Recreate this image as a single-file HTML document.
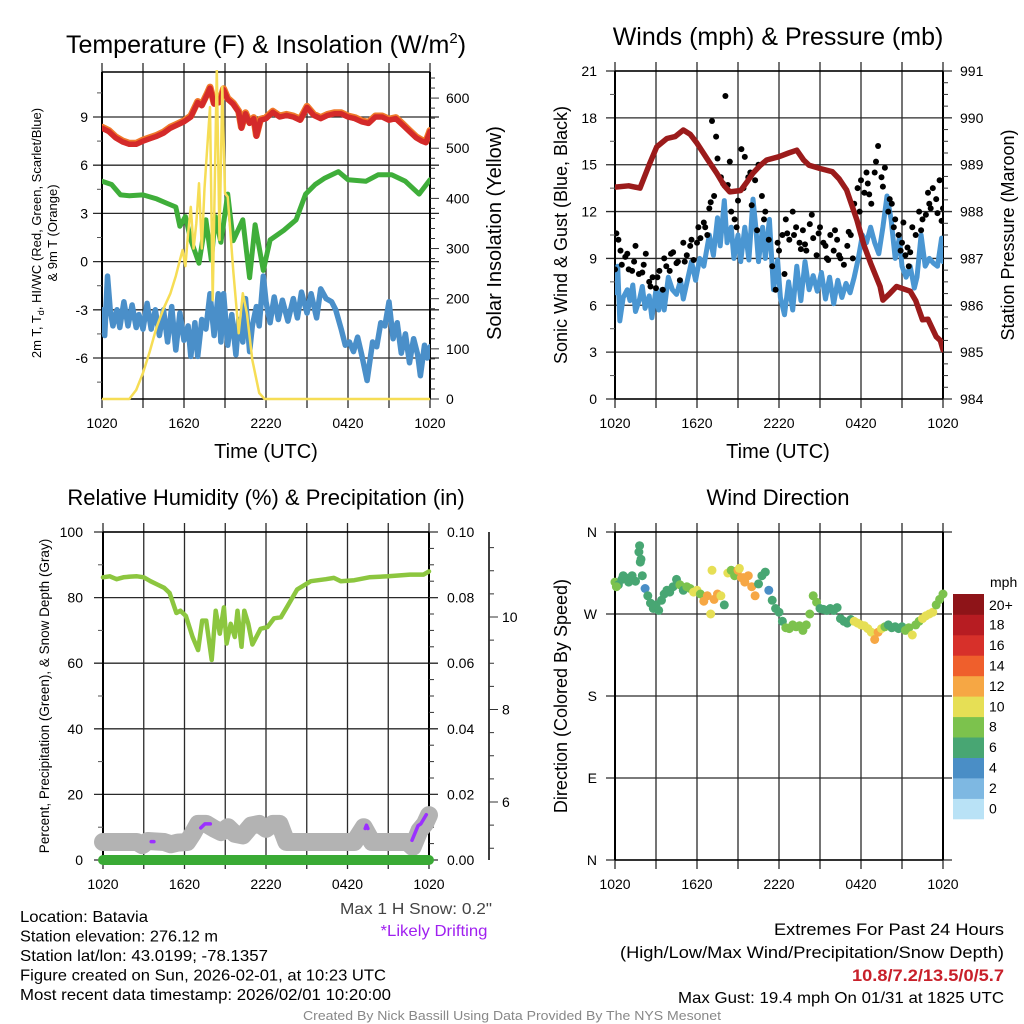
<!DOCTYPE html>
<html><head><meta charset="utf-8"><title>Mesonet Station Plot</title>
<style>
html,body{margin:0;padding:0;background:#fff;}
svg{display:block;font-family:"Liberation Sans",Arial,sans-serif;}
</style></head>
<body>
<svg id="chart" width="1024" height="1024" viewBox="0 0 1024 1024" xmlns="http://www.w3.org/2000/svg"></svg>
<script>
// ===== Panel 1 data: temperature (F) & insolation =====
const tempTimes=[0,0.5,1,1.5,2,2.5,3,3.5,4,4.5,5,5.5,6,6.5,7,7.3,7.7,7.9,8.2,8.6,8.9,9.2,9.6,10,10.2,10.5,10.8,11.1,11.3,11.6,12,12.5,13,13.5,14,14.5,15,15.5,16,16.5,17,17.5,18,18.5,19,19.5,20,20.5,21,21.5,22,22.5,23,23.4,23.7,24];
const tempVals=[8.3,8.1,7.7,7.45,7.3,7.3,7.5,7.65,7.8,8.0,8.3,8.5,8.7,9.0,9.9,9.7,10.4,10.8,9.8,9.9,10.7,10.1,9.8,9.3,8.3,9.2,8.6,8.9,7.8,8.8,8.9,9.3,9.0,9.1,9.0,8.8,9.6,9.1,8.9,9.1,9.2,9.2,9.0,8.9,8.7,8.6,9.0,9.0,8.8,8.9,8.5,8.1,7.7,7.5,7.4,8.1];
const dewTimes=[0,0.7,1.35,2,3,4,4.7,5.4,5.7,6.1,6.5,7.1,7.6,8.0,8.3,8.7,9.2,9.6,10.3,10.8,11.2,11.8,12.3,13.3,14.2,14.9,15.6,16.3,17.3,18,19.3,20.2,21.2,22.2,23.2,24];
const dewVals=[5.0,4.8,4.15,4.1,4.15,3.9,3.65,3.4,2.2,2.8,1.35,-0.1,2.6,0.1,2.8,1.2,4.2,1.3,2.6,-1.0,2.3,-0.55,1.35,1.95,2.6,4.2,4.8,5.2,5.6,5.1,5.0,5.4,5.4,5.0,4.2,5.1];
const hiTimes=[0,0.2,0.4,0.6,0.8,1.1,1.3,1.6,1.9,2.2,2.5,2.7,3.0,3.3,3.6,3.9,4.2,4.5,4.8,5.1,5.4,5.7,6.0,6.3,6.5,6.8,7.0,7.3,7.6,7.9,8.2,8.5,8.7,8.9,9.2,9.5,9.8,10.0,10.3,10.5,10.8,11.0,11.3,11.5,11.8,12.0,12.3,12.6,12.9,13.2,13.6,14.0,14.3,14.6,15.0,15.3,15.7,16.0,16.4,16.8,17.1,17.5,17.8,18.1,18.4,18.7,19.0,19.4,19.8,20.1,20.4,20.7,21.0,21.3,21.6,21.9,22.2,22.5,22.8,23.1,23.3,23.6,23.8,24];
const hiVals=[-3.0,-4.6,-0.9,-3.0,-4.0,-3.0,-4.1,-2.5,-4.0,-2.7,-4.1,-3.3,-4.2,-2.6,-4.2,-3.0,-4.6,-3.0,-5.0,-2.8,-5.5,-3.2,-4.9,-4.0,-5.9,-3.8,-5.9,-3.6,-4.2,-2.0,-4.6,-2.0,-5.0,-2.0,-5.2,-3.3,-5.8,-3.6,-5.0,-2.3,-5.6,-4.0,-2.8,-4.0,-0.9,-2.5,-3.8,-2.2,-3.6,-2.4,-3.7,-2.3,-3.5,-1.9,-3.2,-2.0,-3.5,-1.7,-2.3,-2.5,-3.0,-4.2,-5.2,-5.0,-5.6,-4.7,-5.8,-7.4,-5.0,-5.3,-3.8,-4.0,-2.5,-4.8,-3.8,-5.7,-4.5,-6.3,-4.8,-5.8,-7.1,-5.2,-6.0,-5.3];
const solTimes=[0,2.0,2.5,3.0,3.5,4.0,4.5,5.0,5.4,5.7,5.9,6.1,6.3,6.5,6.7,6.9,7.1,7.3,7.5,7.7,7.9,8.1,8.4,8.6,8.8,9.0,9.2,9.4,9.6,10.0,10.3,10.6,11.0,11.5,11.9,24];
const solVals=[0,0,18,52,95,144,180,210,245,277,297,265,330,383,300,350,430,300,420,500,582,197,656,317,622,410,403,330,257,131,211,171,78,12,0,0];
// ===== Panel 2 data: winds & pressure =====
const presTimes=[0,1.0,1.83,2.5,3.05,3.8,4.4,5.0,5.5,6.0,6.8,7.44,8.0,8.4,9.2,9.7,10.1,10.6,11.1,12.0,12.7,13.3,13.8,14.2,15.0,15.9,16.4,16.95,17.7,18.2,18.7,19.4,19.6,20.1,20.6,21.6,22.0,22.5,22.9,23.5,23.8,24];
const presVals=[988.52,988.55,988.5,989.0,989.38,989.56,989.6,989.74,989.65,989.46,989.1,988.82,988.55,988.42,988.45,988.65,988.82,988.98,989.1,989.17,989.25,989.31,989.1,988.99,988.92,988.85,988.7,988.46,987.82,987.3,986.9,986.4,986.11,986.25,986.4,986.3,986.1,985.69,985.7,985.33,985.25,985.05];
const windTimes=[0,0.2,0.35,0.6,0.9,1.1,1.3,1.5,1.8,2.0,2.2,2.5,2.7,3.0,3.2,3.4,3.6,3.9,4.2,4.5,4.8,5.0,5.3,5.6,5.9,6.2,6.5,6.9,7.2,7.5,7.7,8.0,8.2,8.5,8.7,9.0,9.2,9.5,9.8,10.1,10.3,10.5,10.8,11.0,11.3,11.6,11.9,12.1,12.4,12.7,13.0,13.3,13.6,13.9,14.2,14.5,14.8,15.1,15.4,15.7,16.0,16.3,16.6,16.9,17.2,17.5,17.8,18.1,18.4,18.7,19.0,19.3,19.6,19.9,20.2,20.5,20.8,21.0,21.3,21.6,21.9,22.1,22.4,22.7,23.0,23.3,23.6,23.9,24];
const windVals=[6.8,8.5,5.0,6.5,7.0,6.3,7.3,5.6,6.4,7.2,5.8,6.6,5.2,7.0,5.7,7.0,5.7,7.8,7.0,6.7,7.6,6.4,7.6,8.8,7.6,9.0,8.5,10.5,9.2,11.6,9.8,12.7,10.0,11.0,9.0,10.5,8.8,11.0,8.9,12.8,11.0,8.8,11.0,9.0,11.5,7.0,8.9,6.5,5.4,7.5,5.7,8.5,6.3,8.8,7.0,7.9,6.9,8.1,6.4,7.8,6.1,7.6,6.5,7.4,6.8,7.8,9.0,10.5,10.0,11.0,10.0,9.3,11.0,13.0,11.5,9.0,10.3,8.5,7.8,8.5,7.1,7.8,10.5,8.5,9.0,8.7,8.5,10.3,8.8];
const gustTimes=[0,0.25,0.5,0.75,1,1.25,1.5,1.75,2,2.25,2.5,2.75,3,3.25,3.5,3.75,4,4.25,4.5,4.75,5,5.25,5.5,5.75,6,6.25,6.5,6.75,7,7.25,7.5,7.75,8.08,8.25,8.5,8.75,9,9.25,9.5,9.75,10,10.25,10.5,10.75,11,11.25,11.5,11.75,12,12.25,12.5,12.75,13,13.25,13.5,13.75,14,14.25,14.5,14.75,15,15.25,15.5,15.75,16,16.25,16.5,16.75,17,17.25,17.5,17.75,18,18.25,18.5,18.75,19,19.25,19.5,19.75,20,20.25,20.5,20.75,21,21.25,21.5,21.75,22,22.25,22.5,22.75,23,23.25,23.5,23.75,24,0.1,0.9,2.6,4.6,6.6,7.1,7.4,8.4,9.4,10.4,12.6,13.9,15.6,17.1,18.6,19.6,20.1,21.4,22.9,23.6,0.4,1.4,2.1,3.1,3.6,4.1,5.1,5.6,6.1,6.9,7.9,8.9,9.9,10.9,11.9,12.4,13.1,13.6,14.4,14.9,15.4,16.1,16.4,17.4,17.9,18.4,19.1,20.4,20.9,21.1,21.6,22.4,23.1,23.9];
const gustVals=[8.3,10.2,8.6,9.1,8.3,8.2,9.8,8.0,8.1,9.3,7.5,7.8,7.1,8.2,7.0,8.5,8.2,9.4,8.7,7.6,10.0,9.2,9.8,8.9,10.0,10.3,11.3,10.5,12.6,13.0,15.4,14.2,19.4,13.7,12.0,11.5,12.7,16.0,15.5,14.2,12.4,14.0,15.0,13.0,12.0,10.2,8.5,7.0,9.5,10.5,11.5,10.2,12.0,11.0,10.0,10.8,9.5,11.2,10.3,9.2,11.0,10.0,9.0,10.5,9.5,10.2,9.0,8.6,9.8,10.5,12.5,13.5,14.0,13.2,13.8,12.5,14.5,16.2,14.2,14.8,12.0,12.5,11.5,10.5,10.0,9.2,8.5,11.0,10.5,12.0,11.5,11.8,12.5,13.5,12.8,14.0,12.2,10.6,9.3,7.2,8.8,11.0,17.8,16.8,15.2,13.5,10.8,10.6,9.9,8.9,10.7,13.1,13.6,12.8,9.7,13.2,11.9,9.5,8.8,8.6,7.8,9.0,9.3,8.8,10.2,11.0,12.2,13.8,11.0,14.5,11.5,10.0,8.0,10.5,9.6,11.8,10.6,9.8,10.8,9.2,9.0,12.0,14.5,15.2,11.0,9.5,11.3,9.4,10.8,12.2,11.4];
// ===== Panel 3 data: RH, precip, snow depth =====
const rhTimes=[0,0.5,1.0,1.5,2.0,2.5,3.0,3.5,4.0,4.5,4.9,5.4,5.7,6.1,6.6,7.0,7.3,7.6,8.0,8.3,8.6,8.9,9.1,9.4,9.7,9.9,10.2,10.4,10.7,11.0,11.6,12.1,12.6,13.1,13.6,14.3,15.3,16.4,17.0,17.5,18.5,19.6,21.0,22.6,23.6,24];
const rhVals=[86.2,86.5,85.6,86.2,86.4,86.5,86.2,85.0,84.0,83.0,81.4,75.3,76.0,74.4,68,64,73,73,61,76,69,77,66,72,68,76,65,76,72,65.7,70.5,71,73.7,74,77.5,82.5,85,85.6,86,85,85.3,86.2,86.5,87,87,88];
const snowTimes=[0,2.5,2.9,3.3,4.5,5.0,5.5,6.2,6.6,7.0,7.6,8.2,8.7,9.2,9.7,10.3,10.9,11.5,12.0,12.5,13.0,13.5,18.5,19.2,19.8,22.4,22.8,23.3,23.7,24];
const snowVals=[5.5,5.5,4.5,5.8,5.5,4.8,5.3,5.5,8,11,11,9.5,8.5,10,8,7.5,10.5,11,9.5,11,11,5.5,5.5,10,5.5,5.5,4,9,11,13.7];
const precipTimes=[0,24];
const precipVals=[0,0];
const driftSegTimes=[[3.55,3.75],[7.2,7.5,7.9],[19.3,19.4,19.5],[22.75,23.2,23.4,23.8]];
const driftSegVals=[[5.6,5.6],[9.8,11,11],[9.6,10.6,9.6],[6,10.5,11,13.8]];
// ===== Panel 4 data: wind direction =====
const dirTimes=[0,0.25,0.5,0.75,1.0,1.25,1.5,1.75,1.9,2.0,2.2,2.4,2.6,2.8,3.0,3.2,3.4,3.6,3.8,4.0,4.25,4.5,4.75,5.0,5.25,5.5,5.75,6.0,6.25,6.5,6.75,7.0,7.25,7.5,7.75,8.0,8.25,8.5,8.75,9.0,9.25,9.5,9.75,10.0,10.25,10.5,10.75,11.0,11.25,11.5,11.75,12.0,12.25,12.5,12.75,13.0,13.25,13.5,13.75,14.0,14.25,14.5,14.75,15.0,15.25,15.5,15.75,16.0,16.25,16.5,16.75,17.0,17.25,17.5,17.75,18.0,18.25,18.5,18.75,19.0,19.25,19.5,19.75,20.0,20.25,20.5,20.75,21.0,21.25,21.5,21.75,22.0,22.25,22.5,22.75,23.0,23.25,23.5,23.75,24.0,1.8,1.85,0.1,0.6,7.1,9.1,9.4];
const dirVals=[305,302,308,310,305,312,306,338,330,312,298,290,282,276,280,274,285,292,296,294,300,308,302,296,300,298,294,296,292,284,290,270,286,292,290,280,315,318,312,318,310,305,312,300,290,303,312,316,296,285,276,272,262,255,254,258,256,257,252,258,270,290,283,276,275,274,276,274,277,265,262,260,264,262,260,258,257,254,250,242,250,254,256,258,255,256,254,256,252,255,247,258,262,265,268,270,272,280,286,292,345,327,300,312,318,320,310];
const dirSpeeds=[8,7,7,6,6,7,6,6,6,7,4,6,6,7,6,6,7,7,7,6,7,6,8,7,8,9,10,10,8,12,13,10,12,12,10,7,10,9,8,13,12,13,12,13,12,7,7,7,4,6,7,6,7,8,8,8,8,8,8,8,8,8,8,7,7,7,7,7,6,6,7,6,7,10,10,10,10,10,11,12,12,10,8,7,6,7,6,7,8,8,10,8,8,10,10,11,10,8,8,9,6,6,8,7,10,10,12];
const cbLabels=["0","2","4","6","8","10","12","14","16","18","20+"];
const cbColors=["#b9e2f6","#7eb8e2","#4a8ec6","#48a673","#7cc24d","#e6df55","#f6a744","#ef5f2c","#d7302a","#b71c22","#8e1418"];
const timeTicks=[0,6,12,18,24];
const timeTickLabels=["1020","1620","2220","0420","1020"];

const NS="http://www.w3.org/2000/svg";
const svg=document.getElementById('chart');
function mk(tag,attrs,parent){const e=document.createElementNS(NS,tag);for(const k in attrs)e.setAttribute(k,attrs[k]);(parent||svg).appendChild(e);return e;}
function ln(x1,y1,x2,y2,stroke,w,name){
  const e=mk('line',{x1:x1,y1:y1,x2:x2,y2:y2,stroke:stroke,'stroke-width':w});
  
  
  return e;}
function tx(x,y,s,size,anchor,name,fill,extra){
  const e=mk('text',Object.assign({x:x,y:y,'font-size':size,'text-anchor':anchor||'start',fill:fill||'#000'},extra||{}));
  e.textContent=s;
  
  
  return e;}
function pathFrom(ts,vs,sx,sy,stroke,w,name,extra){
  let d='';for(let i=0;i<ts.length;i++){d+=(i?'L':'M')+sx(ts[i]).toFixed(1)+' '+sy(vs[i]).toFixed(1);}
  const e=mk('path',Object.assign({d:d,fill:'none',stroke:stroke,'stroke-width':w,'stroke-linejoin':'round','stroke-linecap':'round'},extra||{}));
  
  
  return e;}
function clipRect(id,x,y,w,h){const c=mk('clipPath',{id:id});mk('rect',{x:x,y:y,width:w,height:h},c);}

const GRID='#2a2a2a';
function frame(px,py,pw,ph,prefix,hTicks,sy){
  const sx=h=>px+h/24*pw;
  for(let h=0;h<=24;h+=3){ln(sx(h),py-9,sx(h),py+ph+9,GRID,1.3,prefix+'-vgrid');}
  hTicks.forEach(v=>{ln(px-9,sy(v),px+pw+9,sy(v),GRID,1.3,prefix+'-hgrid');});
  ln(px,py,px,py+ph,'#000',2,prefix+'-left-axis');
  ln(px+pw,py,px+pw,py+ph,'#000',2,prefix+'-right-axis');
  ln(px,py,px+pw,py,'#000',1.5,prefix+'-top-border');
  ln(px,py+ph,px+pw,py+ph,'#000',1.5,prefix+'-bottom-border');
  timeTicks.forEach((h,i)=>{tx(sx(h),py+ph+29,timeTickLabels[i],14,'middle',prefix+'-x-tick-label');});
  return sx;}
function minor(x,y,len,name){ln(x,y,x+len,y,'#555',1,name);}

// ================= PANEL 1 =================
(function(){
  const px=102,py=72,pw=328,ph=327;
  const sy=v=>py+(11.8-v)*(ph/20.35);
  const syS=v=>py+ph-v*(ph/652);
  const sx=frame(px,py,pw,ph,'temp',[9,6,3,0,-3,-6],sy);
  [9,6,3,0,-3,-6].forEach(v=>{tx(88,sy(v)+5,String(v),14,'end','temp-y-tick-label');});
  [10.5,7.5,4.5,1.5,-1.5,-4.5,-7.5].forEach(v=>minor(px-5,sy(v),5,'temp-y-minor-tick'));
  for(let v=0;v<=640;v+=20){const big=v%100===0;ln(px+pw,syS(v),px+pw+(big?9:5),syS(v),'#333',1,'insolation-tick');}
  [0,100,200,300,400,500,600].forEach(v=>{tx(446,syS(v)+5,String(v),14,'start','insolation-tick-label');});
  clipRect('c1',px,py-2,pw,ph+4);
  const g=mk('g',{'clip-path':'url(#c1)'});
  pathFrom(tempTimes,tempVals,sx,sy,'#f07a2a',7,'series-9m-temp',{transform:'translate(0,-1)'});g.appendChild(svg.lastChild);
  pathFrom(tempTimes,tempVals,sx,sy,'#d42a2a',5.5,'series-2m-temp');g.appendChild(svg.lastChild);
  pathFrom(dewTimes,dewVals,sx,sy,'#3fae3a',5,'series-dewpoint');g.appendChild(svg.lastChild);
  pathFrom(hiTimes,hiVals,sx,sy,'#4a8fc9',5.5,'series-heat-index-wind-chill');g.appendChild(svg.lastChild);
  pathFrom(solTimes,solVals,sx,syS,'#f6dd55',2.5,'series-solar-insolation');g.appendChild(svg.lastChild);
  tx(266,53,'Temperature (F) & Insolation (W/m',25,'middle','temp-panel-title');
  const sup=svg.lastChild;const ts=document.createElementNS(NS,'tspan');ts.setAttribute('dy','-10');ts.setAttribute('font-size','15');ts.textContent='2';sup.appendChild(ts);
  const ts2=document.createElementNS(NS,'tspan');ts2.setAttribute('dy','10');ts2.textContent=')';sup.appendChild(ts2);
  tx(266,458,'Time (UTC)',20,'middle','temp-x-axis-title');
  const yl=tx(41,233,'2m T, T',13,'middle','temp-y-axis-title','#000',{transform:'rotate(-90 41 233)'});
  const sb=document.createElementNS(NS,'tspan');sb.setAttribute('dy','3');sb.setAttribute('font-size','9');sb.textContent='d';yl.appendChild(sb);
  const sb2=document.createElementNS(NS,'tspan');sb2.setAttribute('dy','-3');sb2.textContent=', HI/WC (Red, Green, Scarlet/Blue)';yl.appendChild(sb2);
  tx(57,233,'& 9m T (Orange)',13,'middle','temp-y-axis-title-line2','#000',{transform:'rotate(-90 57 233)'});
  tx(501,233,'Solar Insolation (Yellow)',20,'middle','insolation-y-axis-title','#000',{transform:'rotate(-90 501 233)'});
})();

// ================= PANEL 2 =================
(function(){
  const px=615,py=71,pw=328,ph=328;
  const sy=v=>py+ph-v*(ph/21);
  const syP=p=>py+ph-(p-984)*(ph/7);
  const sx=frame(px,py,pw,ph,'wind',[21,18,15,12,9,6,3,0],sy);
  [21,18,15,12,9,6,3,0].forEach(v=>{tx(597,sy(v)+5,String(v),14,'end','wind-y-tick-label');});
  [19.5,16.5,13.5,10.5,7.5,4.5,1.5].forEach(v=>minor(px-5,sy(v),5,'wind-y-minor-tick'));
  for(let p=984;p<=991.001;p+=0.25){const big=Math.abs(p-Math.round(p))<0.01;ln(px+pw,syP(p),px+pw+(big?9:5),syP(p),'#333',1,'pressure-tick');}
  for(let p=984;p<=991;p++){tx(960,syP(p)+5,String(p),14,'start','pressure-tick-label');}
  clipRect('c2',px,py-2,pw,ph+4);
  const g=mk('g',{'clip-path':'url(#c2)'});
  pathFrom(windTimes,windVals,sx,sy,'#4a96d2',5,'series-sonic-wind');g.appendChild(svg.lastChild);
  for(let i=0;i<gustTimes.length;i++){
    const c=mk('circle',{cx:sx(gustTimes[i]).toFixed(1),cy:sy(gustVals[i]).toFixed(1),r:3,fill:'#000'},g);
    
    
  }
  pathFrom(presTimes,presVals,sx,syP,'#9b1b1b',5.5,'series-station-pressure');g.appendChild(svg.lastChild);
  tx(778,45,'Winds (mph) & Pressure (mb)',25,'middle','wind-panel-title');
  tx(778,458,'Time (UTC)',20,'middle','wind-x-axis-title');
  tx(567,235,'Sonic Wind & Gust (Blue, Black)',18,'middle','wind-y-axis-title','#000',{transform:'rotate(-90 567 235)'});
  tx(1014,235,'Station Pressure (Maroon)',18,'middle','pressure-y-axis-title','#000',{transform:'rotate(-90 1014 235)'});
})();

// ================= PANEL 3 =================
(function(){
  const px=103,py=532,pw=326,ph=328;
  const sy=v=>py+ph-v*(ph/100);
  const syR=v=>py+ph-v*(ph/0.1);
  const sx=frame(px,py,pw,ph,'rh',[100,80,60,40,20,0],sy);
  [100,80,60,40,20,0].forEach(v=>{tx(83,sy(v)+5,String(v),14,'end','rh-y-tick-label');});
  [90,70,50,30,10].forEach(v=>minor(px-5,sy(v),5,'rh-y-minor-tick'));
  for(let i=0;i<=20;i++){const v=i*0.005;ln(px+pw,syR(v),px+pw+(i%4===0?9:5),syR(v),'#333',1,'precip-tick');}
  [0,0.02,0.04,0.06,0.08,0.1].forEach(v=>{tx(447,syR(v)+5,v.toFixed(2),14,'start','precip-tick-label');});
  const sd=v=>617+(10-v)*46.25;
  ln(489,532,489,860,'#000',1.5,'snow-depth-axis');
  for(let v=5;v<=11.5;v+=0.5){const y=sd(v);if(y<532||y>860)continue;ln(489,y,489+(Number.isInteger(v)&&v%2===0?9:5),y,'#333',1,'snow-depth-tick');}
  [10,8,6].forEach(v=>{tx(502,sd(v)+5,String(v),14,'start','snow-depth-tick-label');});
  clipRect('c3',px-14,py-2,pw+28,ph+14);
  const g=mk('g',{'clip-path':'url(#c3)'});
  pathFrom(snowTimes,snowVals,sx,sy,'#b3b3b3',18,'series-snow-depth');g.appendChild(svg.lastChild);
  pathFrom(precipTimes,precipVals,sx,sy,'#3aaa35',10,'series-precipitation');g.appendChild(svg.lastChild);
  pathFrom(rhTimes,rhVals,sx,sy,'#8cc63f',4.5,'series-relative-humidity');g.appendChild(svg.lastChild);
  driftSegTimes.forEach((ts,i)=>{pathFrom(ts,driftSegVals[i],sx,sy,'#9b30ff',3.5,'series-likely-drifting');g.appendChild(svg.lastChild);});
  tx(266,505,'Relative Humidity (%) & Precipitation (in)',22,'middle','rh-panel-title');
  tx(49,696,'Percent, Precipitation (Green), & Snow Depth (Gray)',13.5,'middle','rh-y-axis-title','#000',{transform:'rotate(-90 49 696)'});
})();

// ================= PANEL 4 =================
(function(){
  const px=615,py=532,pw=328,ph=328;
  const sy=d=>py+ph-d*(ph/360);
  const sx=frame(px,py,pw,ph,'dir',[360,270,180,90,0],sy);
  [['N',360],['W',270],['S',180],['E',90],['N',0]].forEach(a=>{tx(597,sy(a[1])+5,a[0],14,'end','dir-y-tick-label');});
  clipRect('c4',px-6,py-6,pw+12,ph+12);
  const g=mk('g',{'clip-path':'url(#c4)'});
  function col(s){let i=Math.floor(s/2);if(i>10)i=10;if(i<0)i=0;return cbColors[i];}
  for(let i=0;i<dirTimes.length;i++){
    const c=mk('circle',{cx:sx(dirTimes[i]).toFixed(1),cy:sy(dirVals[i]).toFixed(1),r:4.5,fill:col(dirSpeeds[i])},g);
    
    
  }
  tx(778,505,'Wind Direction',22,'middle','dir-panel-title');
  tx(567,696,'Direction (Colored By Speed)',18,'middle','dir-y-axis-title','#000',{transform:'rotate(-90 567 696)'});
  const cbx=953,cbTop=594,cbH=225,bh=cbH/cbColors.length;
  for(let i=0;i<cbColors.length;i++){
    const y=cbTop+cbH-(i+1)*bh;
    const r=mk('rect',{x:cbx,y:y.toFixed(1),width:31,height:(bh+0.3).toFixed(1),fill:cbColors[i]});
    
    
    tx(989,y+bh/2+5+(i===10?1:0)+(i<10?10:0)-(i<10?bh/2:0),cbLabels[i],14,'start','colorbar-label');
  }
  tx(990,587,'mph',14,'start','colorbar-title');
})();

// ================= FOOTER TEXT =================
function fit(e,w){e.setAttribute('textLength',w);e.setAttribute('lengthAdjust','spacingAndGlyphs');}
fit(tx(492,914,'Max 1 H Snow: 0.2"',16,'end','max-snow-text','#444'),152);
fit(tx(434,936,'*Likely Drifting',16,'middle','likely-drifting-note','#a020f0'),107);
const infoLines=['Location: Batavia','Station elevation: 276.12 m','Station lat/lon: 43.0199; -78.1357','Figure created on Sun, 2026-02-01, at 10:23 UTC','Most recent data timestamp: 2026/02/01 10:20:00'];
const infoWidths=[128,198,248,366,371];
infoLines.forEach((s,i)=>{fit(tx(20,922+i*19.5,s,16,'start','station-info-line'),infoWidths[i]);});
fit(tx(1004,935,'Extremes For Past 24 Hours',16.5,'end','extremes-title'),230);
fit(tx(1004,958,'(High/Low/Max Wind/Precipitation/Snow Depth)',16.5,'end','extremes-subtitle'),384);
fit(tx(1004,981,'10.8/7.2/13.5/0/5.7',16.5,'end','extremes-values','#c8202a',{'font-weight':'bold'}),152);
fit(tx(1004,1003,'Max Gust: 19.4 mph On 01/31 at 1825 UTC',16,'end','max-gust-text'),326);
fit(tx(512,1020,'Created By Nick Bassill Using Data Provided By The NYS Mesonet',12.5,'middle','credit-text','#888'),418);
</script>
</body></html>
